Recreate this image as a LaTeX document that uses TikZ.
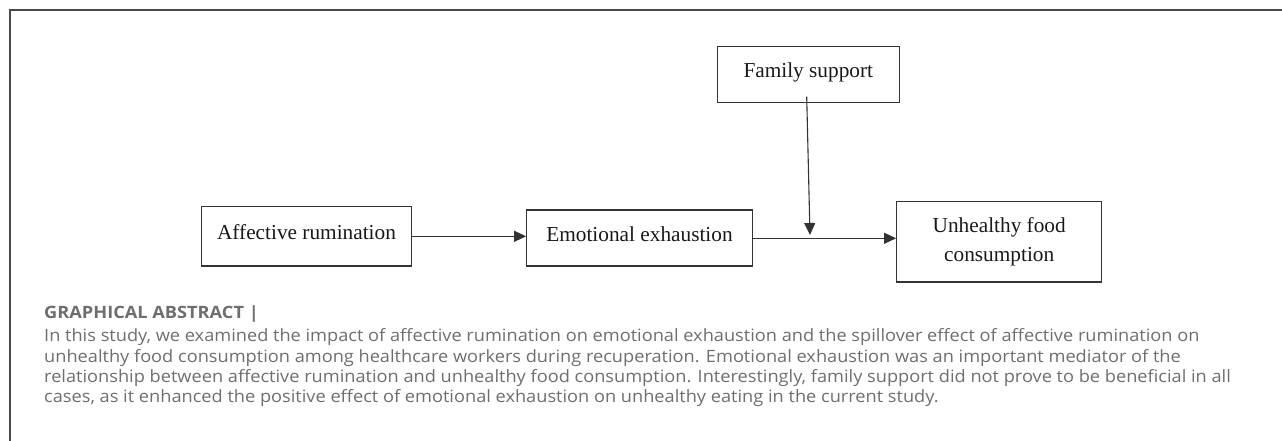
\documentclass[tikz,border=0pt]{standalone}
\usepackage{fontspec}
\usetikzlibrary{arrows.meta}
\newfontfamily\boxfont{Liberation Serif}
\newfontfamily\capfont[FakeStretch=1.07]{Open Sans}
\definecolor{framegray}{HTML}{4A4A4A}
\definecolor{boxline}{HTML}{333333}
\definecolor{captext}{HTML}{6E6E6E}
\tikzset{
  varbox/.style={draw=boxline, line width=1.2pt, fill=white, inner sep=0pt,
    font=\boxfont\fontsize{21.3}{29.3}\selectfont, text=black!90, align=center},
  flow/.style={draw=boxline, line width=1.1pt, -{Triangle[length=12pt,width=11pt]}},
  captxt/.style={anchor=base west, inner sep=0pt, text=captext,
    font=\capfont\fontsize{17}{20.4}\selectfont},
}
\begin{document}
\begin{tikzpicture}[x=1pt,y=-1pt]
\useasboundingbox (0,0) rectangle (1282,441);
% frame
\draw[framegray, line width=1.3pt] (1282,10) -- (10,10) -- (10,441);
% boxes
\node[varbox, minimum width=209.6pt, minimum height=59.3pt, text depth=9.2pt] (aff) at (306.5,236.3) {Affective rumination};
\node[varbox, minimum width=225.6pt, minimum height=56pt, text depth=7.4pt] (emo) at (639.5,238) {Emotional exhaustion};
\node[varbox, minimum width=182pt, minimum height=56pt, text depth=8.6pt] (fam) at (808.3,74.7) {Family support};
\node[varbox, minimum width=205pt, minimum height=80.3pt] (unh) at (999.2,241.8) {Unhealthy food\\consumption};
% connectors
\coordinate (mod) at (810,235);
\draw[flow] (aff.east) -- (aff.east -| emo.west);
\draw[flow] ([yshift=-0.3pt]emo.east) -- ([yshift=-0.3pt]emo.east -| unh.west);
\draw[flow] ([xshift=-1.6pt,yshift=6.6pt]fam.south) -- (mod);
% caption
\node[captxt, font=\capfont\bfseries\fontsize{17}{20.4}\selectfont] (head) at (44,318.3) {GRAPHICAL ABSTRACT |};
\node[captxt] (cap1) at (44,341.7) {In this study, we examined the impact of affective rumination on emotional exhaustion and the spillover effect of affective rumination on};
\node[captxt] (cap2) at (44,362.1) {unhealthy food consumption among healthcare workers during recuperation. Emotional exhaustion was an important mediator of the};
\node[captxt] (cap3) at (44,382.5) {relationship between affective rumination and unhealthy food consumption. Interestingly, family support did not prove to be beneficial in all};
\node[captxt] (cap4) at (44,402.9) {cases, as it enhanced the positive effect of emotional exhaustion on unhealthy eating in the current study.};
\end{tikzpicture}
\end{document}
